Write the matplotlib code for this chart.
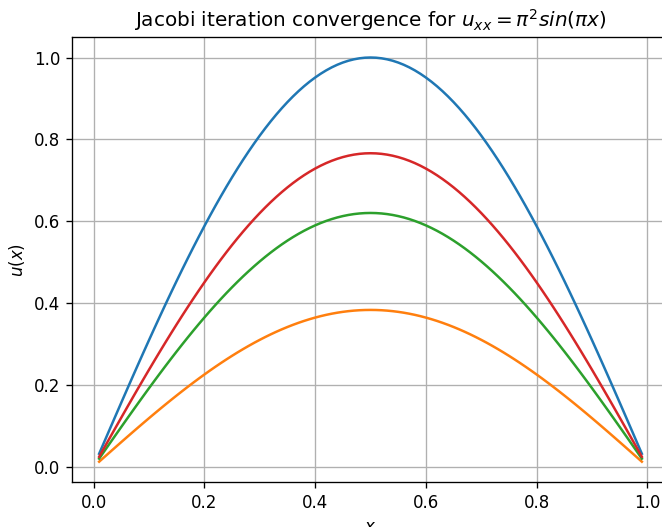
import numpy as np
import matplotlib
matplotlib.use("Agg")
import matplotlib.pyplot as plt

# grid points (interior nodes) and peak amplitudes
x = np.linspace(0.01, 0.99, 99)
series_labels = ["exact", "iter 1", "iter 2", "iter 3"]
amplitudes = [1.0, 0.383, 0.620, 0.766]
colors = ["C0", "C1", "C2", "C3"]

fig = plt.figure(figsize=(662 / 120, 527 / 120), dpi=120)
ax = fig.add_axes([72 / 662, (527 - 481.9) / 527, 597 / 662, 444.6 / 527])

for lab, a, c in zip(series_labels, amplitudes, colors):
    ax.plot(x, a * np.sin(np.pi * x), color=c, label=lab)

ax.grid(True)
ax.set_xlabel("$x$")
ax.set_ylabel("$u(x)$")
ax.set_title(r"Jacobi iteration convergence for $u_{xx} = \pi^2 sin(\pi x)$")

fig.savefig("out.png", dpi=120)
